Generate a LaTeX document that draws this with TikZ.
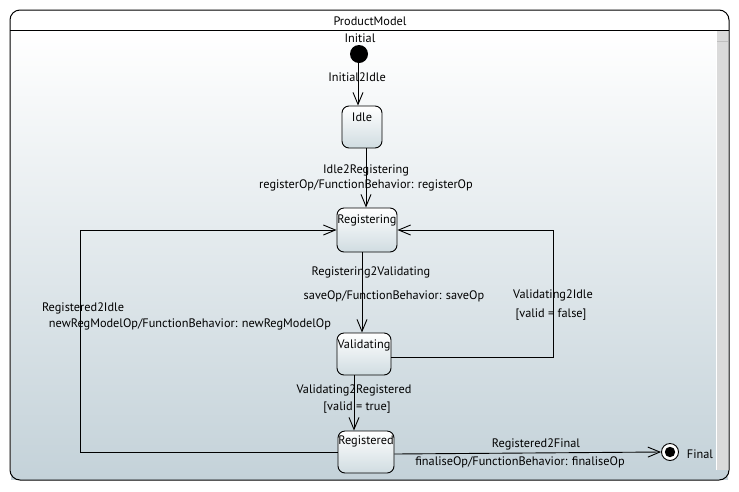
\documentclass[tikz,border=0pt]{standalone}
\usepackage{fontspec}
\setmainfont{PT Sans}
\usetikzlibrary{arrows.meta,shapes.geometric}
\definecolor{bgbot}{RGB}{196,210,217}
\definecolor{boxbot}{RGB}{208,220,225}
\definecolor{sbar}{RGB}{218,218,218}
\tikzset{
  lbl/.style={font=\fontsize{12.3}{14}\selectfont, inner sep=0pt, text=black},
  state/.style={draw, line width=0.9pt, rounded corners=7pt, top color=white, bottom color=boxbot, inner sep=0pt},
  tr/.style={draw, line width=0.9pt, -{Straight Barb[length=12pt,width=10pt,line width=0.9pt]}},
}
\begin{document}
\begin{tikzpicture}[x=1pt,y=-1pt]
\useasboundingbox (0,0) rectangle (739,491);
% frame
\shade[top color=white, bottom color=bgbot] (11,31) rectangle (728,479);
\fill[sbar] (717,31) rectangle (728,470);
\draw[line width=0.4pt, black!25] (717,41) -- (728,41);
\draw[white, line width=1pt] (716,31) -- (716,470);
\draw[line width=1pt, rounded corners=10pt] (10,10) rectangle (729,480);
\draw[line width=1pt] (10,30) -- (729,30);
\node[lbl] (title) at (370,21) {ProductModel};
% states
\node[circle, fill=black, minimum size=18pt, inner sep=0pt] (init) at (359,54) {};
\node[lbl] (initt) at (360,38) {Initial};
\node[state, minimum width=40pt, minimum height=42pt] (idle) at (362,127) {};
\node[lbl] (idlet) at (362,117) {Idle};
\node[state, minimum width=60pt, minimum height=44pt] (reg) at (367,230) {};
\node[lbl] (regt) at (367,220) {Registering};
\node[state, minimum width=54pt, minimum height=42pt] (val) at (364,354) {};
\node[lbl] (valt) at (364,345) {Validating};
\node[state, minimum width=56pt, minimum height=42pt] (regd) at (366,452) {};
\node[lbl] (regdt) at (366,441) {Registered};
\node[circle, draw, line width=0.9pt, fill=white, minimum size=17pt, inner sep=0pt] (final) at (670,452) {};
\fill[black] (final.center) circle[radius=5.2pt];
\node[lbl] (finalt) at (700,454) {Final};
% connectors
\coordinate (v2i) at (553,230);
\coordinate (r2i) at (80,230);
\draw[tr] ([xshift=-1pt]init.south) -- ([xshift=-4pt]idle.north);
\draw[tr] ([xshift=4pt]idle.south) -- ([xshift=-1pt]reg.north);
\draw[tr] ([xshift=-5pt]reg.south) -- ([xshift=-2pt]val.north);
\draw[tr] ([xshift=-10pt]val.south) -- ([xshift=-12pt]regd.north);
\draw[tr] ([yshift=-3pt]val.east) -| (v2i) -- (reg.east);
\draw[tr] (regd.west) -| (r2i) -- (reg.west);
\draw[tr] ([yshift=-2pt]regd.east) -- (final.west);
% labels
\node[lbl] (l1) at (357,77) {Initial2Idle};
\node[lbl] (l2a) at (366,170) {Idle2Registering};
\node[lbl] (l2b) at (366,185) {registerOp/FunctionBehavior: registerOp};
\node[lbl] (l3a) at (371,272) {Registering2Validating};
\node[lbl] (l3b) at (394,296) {saveOp/FunctionBehavior: saveOp};
\node[lbl] (l4a) at (553,295) {Validating2Idle};
\node[lbl] (l4b) at (551,315) {[valid = false]};
\node[lbl] (l5a) at (354,390) {Validating2Registered};
\node[lbl] (l5b) at (357,408) {[valid = true]};
\node[lbl] (l6a) at (83,308) {Registered2Idle};
\node[lbl] (l6b) at (190,324) {newRegModelOp/FunctionBehavior: newRegModelOp};
\node[lbl] (l7a) at (536,444) {Registered2Final};
\node[lbl] (l7b) at (520,462) {finaliseOp/FunctionBehavior: finaliseOp};
\end{tikzpicture}
\end{document}
